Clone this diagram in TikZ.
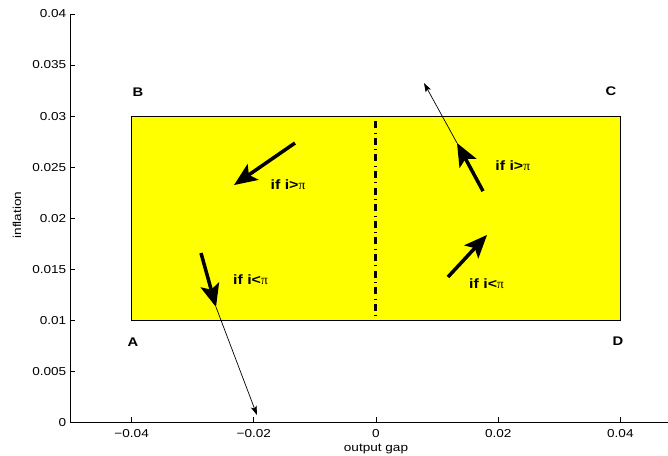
\documentclass[tikz,border=0pt]{standalone}
\usepackage{fontspec}
\setmainfont{Liberation Sans}[FakeStretch=1.18]
\newfontfamily\symfont{Liberation Serif}
\usetikzlibrary{arrows.meta}
\definecolor{boxyellow}{RGB}{255,255,0}
\newcommand{\sympi}{{\mdseries\symfont π}}
\begin{document}
\begin{tikzpicture}[x=6110pt,y=10210pt,
    every node/.style={inner sep=0pt,font=\fontsize{11.5}{13}\selectfont},
    corner/.style={font=\fontsize{12.5}{14}\selectfont\bfseries},
    cond/.style={font=\fontsize{13.5}{15}\selectfont\bfseries},
    fat/.style={line width=3.5pt,-{Stealth[length=23pt,width=19pt,inset=5pt]}},
    slim/.style={line width=0.7pt,-{Stealth[length=9pt,width=6pt,inset=2pt]}}]
\useasboundingbox (-0.06154,-0.0033) rectangle (0.04779,0.04136);

% region and the zero line
\filldraw[fill=boxyellow,draw=black,line width=0.7pt] (-0.04,0.01) rectangle (0.04,0.03);
\draw[line width=3pt,dash pattern=on 0.6pt off 4.5pt on 7pt off 4.5pt] (0,0.03) -- (0,0.01);

% axes
\draw[line width=0.7pt] (-0.05,0.04) -- (-0.05,0) -- (0.05,0);
\foreach \y [count=\i] in {0,0.005,0.01,0.015,0.02,0.025,0.03,0.035,0.04}
  {\draw[line width=0.7pt] (-0.05,\y) -- ++(5pt,0);
   \node[anchor=east,xshift=-4pt] (yt\i) at (-0.05,\y) {\y};}
\foreach \x/\t [count=\i] in {-0.04/−0.04,-0.02/−0.02,0/0,0.02/0.02,0.04/0.04}
  {\draw[line width=0.7pt] (\x,0) -- ++(0,5pt);
   \node[anchor=base,yshift=-15pt] (xt\i) at (\x,0) {\t};}
\node[rotate=90] (ylab) at (-0.05876,0.0203) {inflation};
\node[anchor=base] (xlab) at (0,-0.00281) {output gap};

% corners
\node[corner] (A) at (-0.03977,0.00786) {A};
\node[corner] (B) at (-0.03895,0.03235) {B};
\node[corner] (C) at (0.03846,0.03245) {C};
\node[corner] (D) at (0.03961,0.00796) {D};

% arrows
\coordinate (t1) at (-0.01326,0.02736);
\coordinate (h1) at (-0.02324,0.02324);
\coordinate (t2) at (-0.02864,0.01658);
\coordinate (h2) at (-0.02619,0.01129);
\coordinate (e2) at (-0.01948,0.00072);
\coordinate (t3) at (0.01751,0.02265);
\coordinate (h3) at (0.01326,0.02736);
\coordinate (e3) at (0.00786,0.03324);
\coordinate (t4) at (0.01178,0.01423);
\coordinate (h4) at (0.01817,0.01835);

\draw[slim] (h2) -- (e2);
\draw[slim] (h3) -- (e3);
\draw[fat] (t1) -- (h1);
\draw[fat] (t2) -- (h2);
\draw[fat] (t3) -- (h3);
\draw[fat] (t4) -- (h4);

\node[cond] (c1) at (-0.01440,0.02327) {if i>\sympi};
\node[cond] (c2) at (-0.02054,0.01394) {if i<\sympi};
\node[cond] (c3) at (0.02239,0.02512) {if i>\sympi};
\node[cond] (c4) at (0.01809,0.01355) {if i<\sympi};
\end{tikzpicture}
\end{document}
